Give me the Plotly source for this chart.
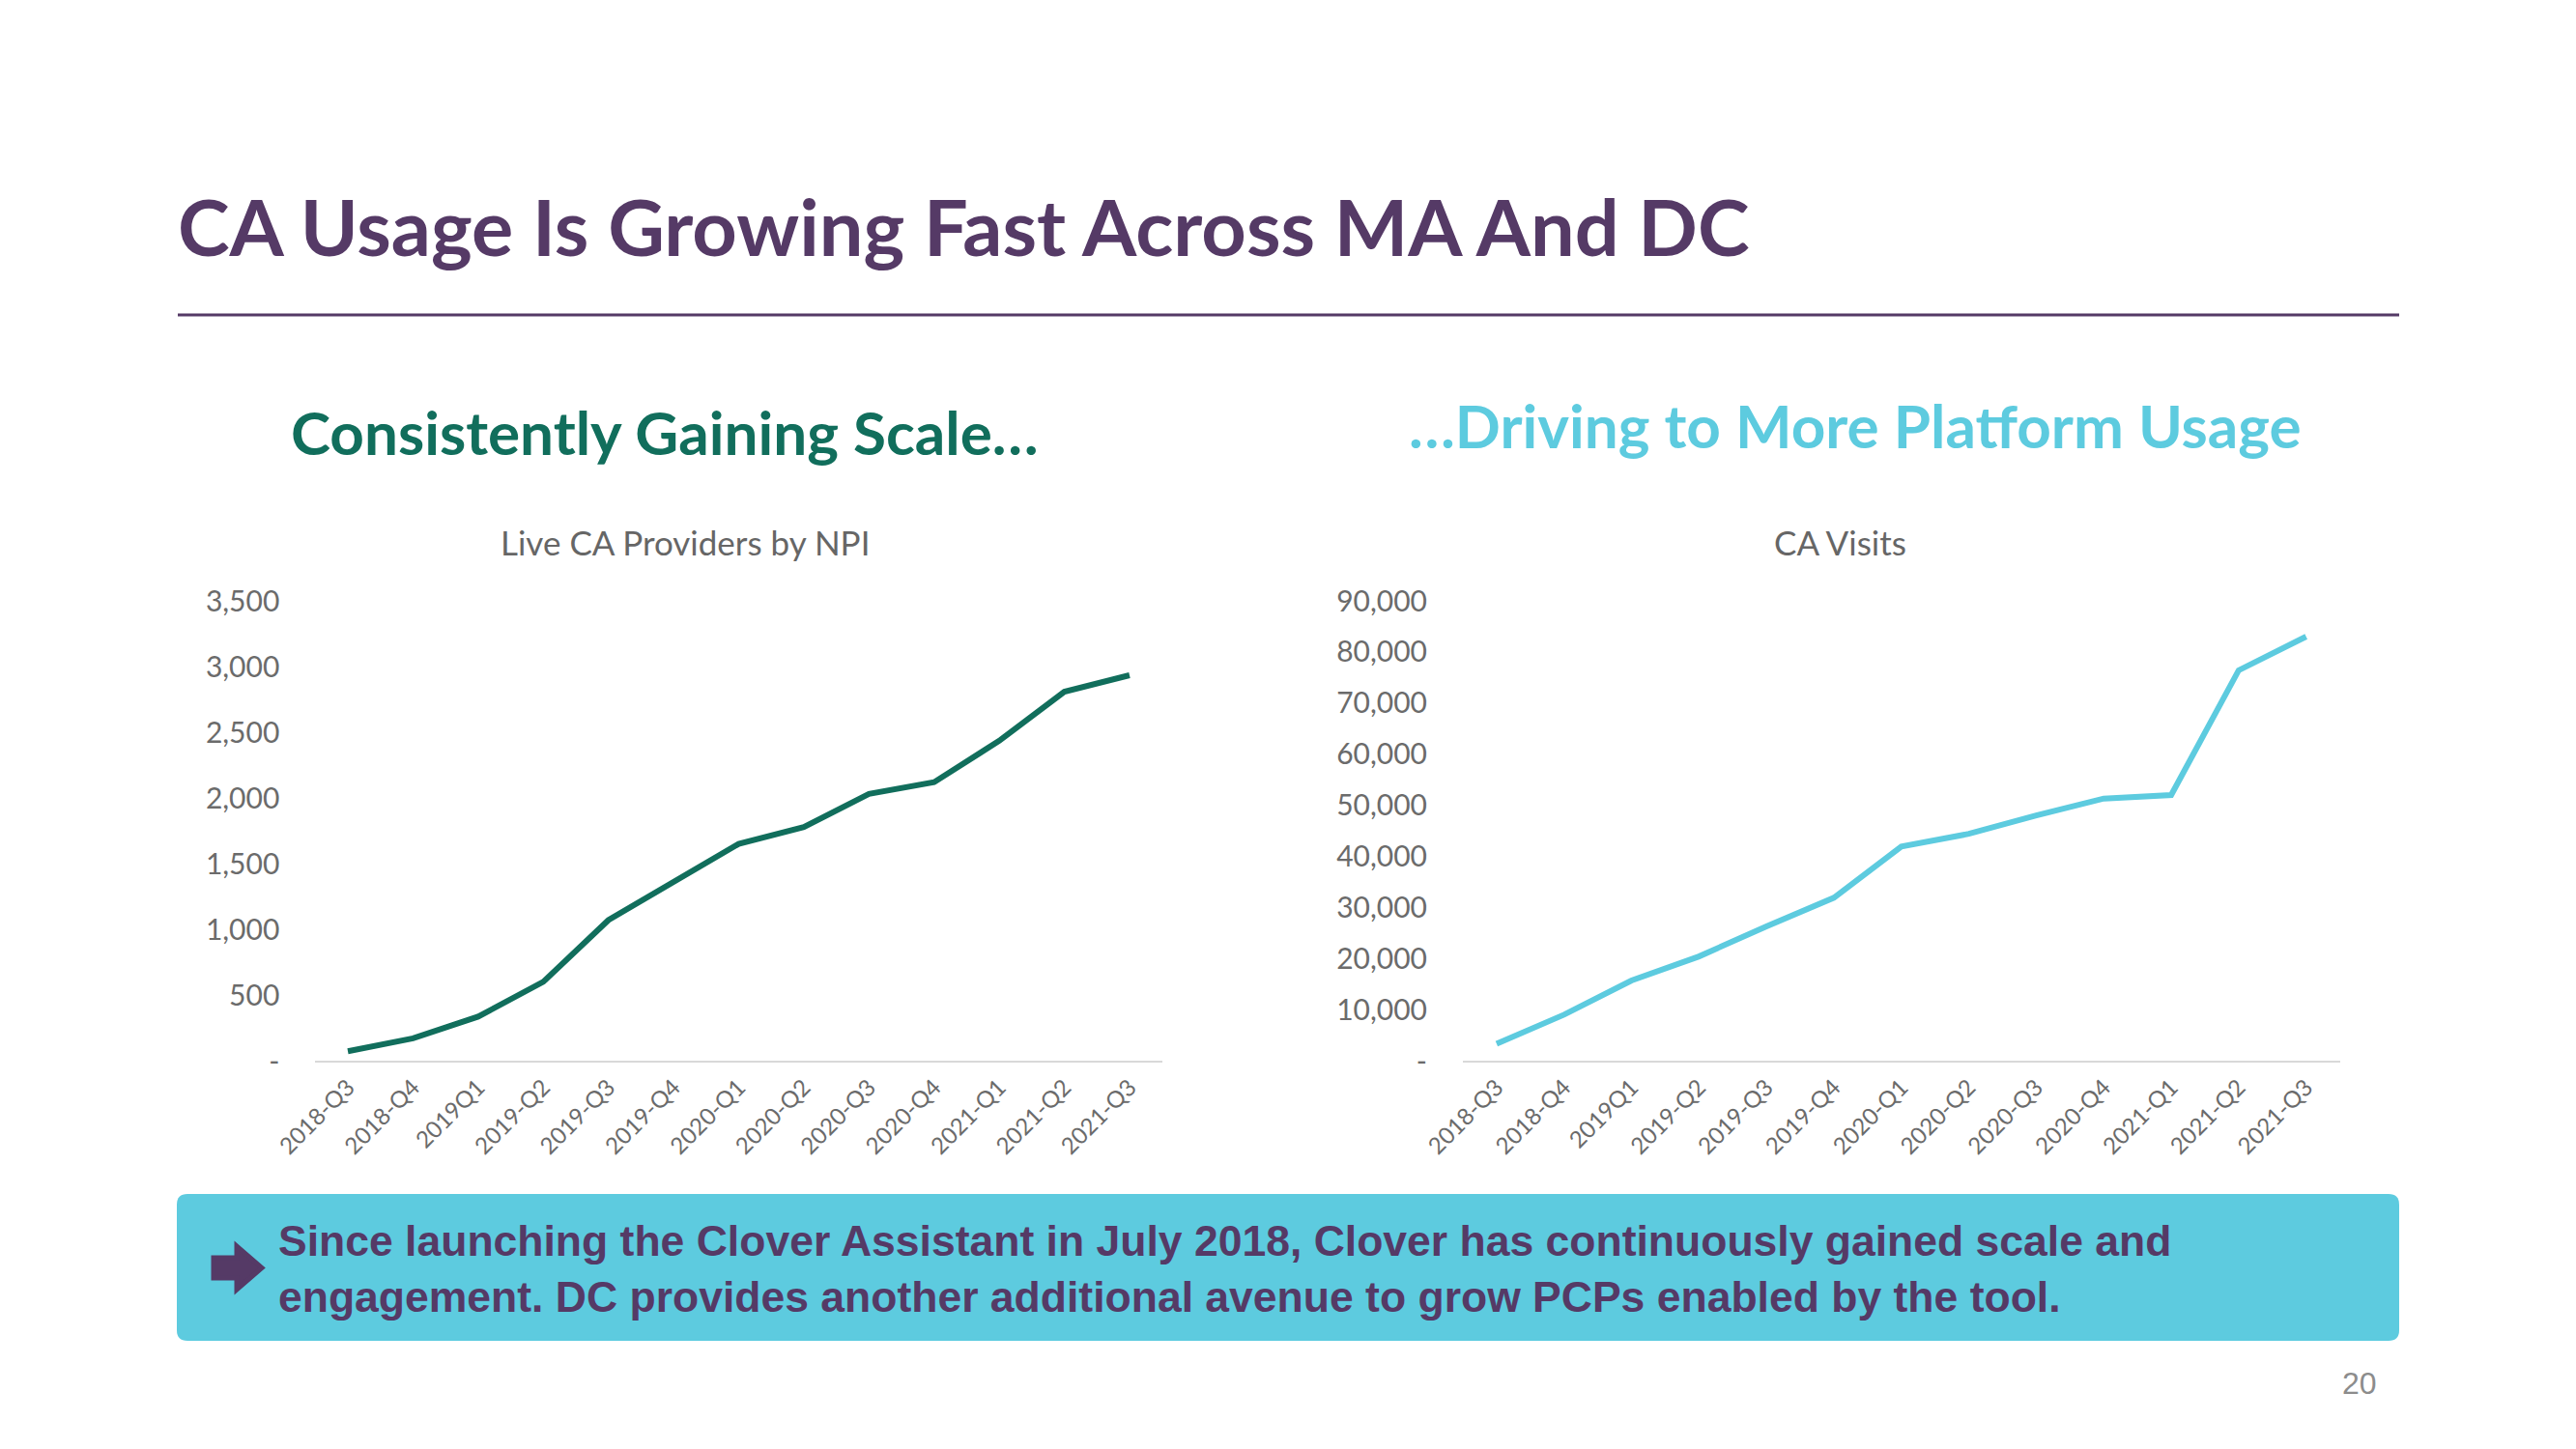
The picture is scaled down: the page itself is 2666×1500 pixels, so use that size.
import plotly.graph_objects as go

# ---------------- data ----------------
quarters = ["2018-Q3", "2018-Q4", "2019Q1", "2019-Q2", "2019-Q3", "2019-Q4",
            "2020-Q1", "2020-Q2", "2020-Q3", "2020-Q4", "2021-Q1", "2021-Q2", "2021-Q3"]
providers = [72, 170, 335, 600, 1070, 1365, 1650, 1778, 2030, 2120, 2435, 2808, 2934]
visits = [3300, 9000, 15700, 20400, 26300, 31900, 41900, 44400, 48000, 51300, 52000, 76400, 83000]

prov_ticks = [0, 500, 1000, 1500, 2000, 2500, 3000, 3500]
visit_ticks = [0, 10000, 20000, 30000, 40000, 50000, 60000, 70000, 80000, 90000]

OFF = 8  # page body margin
W, H = 2666 - 2 * OFF, 1500 - 2 * OFF
PURPLE = "#553a66"
GREEN = "#116e5c"
CYAN = "#5dcbdf"
GRAY = "#6b6b6b"


def px(x):
    return (x - OFF) / W


def py(y):
    return 1 - (y - OFF) / H


def tick_text(vals):
    return ["-" if v == 0 else f"{v:,}" for v in vals]


fig = go.Figure()
fig.add_trace(go.Scatter(x=quarters, y=providers, mode="lines",
                         line=dict(color=GREEN, width=6), xaxis="x", yaxis="y",
                         showlegend=False, hoverinfo="x+y"))
fig.add_trace(go.Scatter(x=quarters, y=visits, mode="lines",
                         line=dict(color=CYAN, width=6), xaxis="x2", yaxis="y2",
                         showlegend=False, hoverinfo="x+y"))

tickfont_y = dict(family="Lato, Open Sans, sans-serif", size=30, color=GRAY)
tickfont_x = dict(family="Lato, Open Sans, sans-serif", size=24, color=GRAY)

common_x = dict(type="category", range=[-0.5, len(quarters) - 0.5], showgrid=False,
                zeroline=False, showline=True, linecolor="#d9d9d9", linewidth=2,
                tickangle=-45, tickfont=tickfont_x, ticks="", ticklabelstandoff=2,
                fixedrange=True, automargin=False)
common_y = dict(showgrid=False, zeroline=False, showline=False, ticks="",
                tickfont=tickfont_y, ticklabelstandoff=36, fixedrange=True,
                automargin=False)

fig.update_layout(
    template="none",
    width=W, height=H,
    margin=dict(l=0, r=0, t=0, b=0, pad=0, autoexpand=False),
    paper_bgcolor="white", plot_bgcolor="white",
    xaxis=dict(domain=[px(326.3), px(1202.7)], anchor="y", **common_x),
    yaxis=dict(domain=[py(1098), py(622)], anchor="x", range=[0, 3500],
               tickvals=prov_ticks, ticktext=tick_text(prov_ticks), **common_y),
    xaxis2=dict(domain=[px(1514), px(2421.6)], anchor="y2", **common_x),
    yaxis2=dict(domain=[py(1098), py(622)], anchor="x2", range=[0, 90000],
                tickvals=visit_ticks, ticktext=tick_text(visit_ticks), **common_y),
)

ann = []
P = dict(xref="paper", yref="paper", showarrow=False)
# main title
ann.append(dict(text="CA Usage Is Growing Fast Across MA And DC", x=px(182), y=py(233),
                xanchor="left", yanchor="middle", **P,
                font=dict(family="Lato, Open Sans, sans-serif", size=81, color=PURPLE, weight=700)))
# section subtitles
ann.append(dict(text="Consistently Gaining Scale…", x=px(299), y=py(447),
                xanchor="left", yanchor="middle", **P,
                font=dict(family="Lato, Open Sans, sans-serif", size=62, color=GREEN, weight=700)))
ann.append(dict(text="…Driving to More Platform Usage", x=px(1456), y=py(440),
                xanchor="left", yanchor="middle", **P,
                font=dict(family="Lato, Open Sans, sans-serif", size=62, color=CYAN, weight=700)))
# chart titles
ann.append(dict(text="Live CA Providers by NPI", x=px(709), y=py(561),
                xanchor="center", yanchor="middle", **P,
                font=dict(family="Lato, Open Sans, sans-serif", size=35, color="#666666")))
ann.append(dict(text="CA Visits", x=px(1904), y=py(561),
                xanchor="center", yanchor="middle", **P,
                font=dict(family="Lato, Open Sans, sans-serif", size=35, color="#666666")))
# banner text
ann.append(dict(text="Since launching the Clover Assistant in July 2018, Clover has continuously gained scale and<br>"
                     "engagement. DC provides another additional avenue to grow PCPs enabled by the tool.",
                x=px(286), y=py(1313), xanchor="left", yanchor="middle", align="left", **P,
                font=dict(family="Liberation Sans, Arial, sans-serif", size=44.5, color=PURPLE, weight=700)))
# page number
ann.append(dict(text="20", x=px(2462), y=py(1432), xanchor="right", yanchor="middle", **P,
                font=dict(family="Liberation Sans, Arial, sans-serif", size=32, color="#8c8c8c")))
fig.update_layout(annotations=ann)


def rounded_rect(x0, y0, x1, y1, r):
    pts = [
        f"M {px(x0 + r)},{py(y0)}",
        f"L {px(x1 - r)},{py(y0)}",
        f"Q {px(x1)},{py(y0)} {px(x1)},{py(y0 + r)}",
        f"L {px(x1)},{py(y1 - r)}",
        f"Q {px(x1)},{py(y1)} {px(x1 - r)},{py(y1)}",
        f"L {px(x0 + r)},{py(y1)}",
        f"Q {px(x0)},{py(y1)} {px(x0)},{py(y1 - r)}",
        f"L {px(x0)},{py(y0 + r)}",
        f"Q {px(x0)},{py(y0)} {px(x0 + r)},{py(y0)}",
        "Z",
    ]
    return " ".join(pts)


arrow_pts = [(221, 1302), (245, 1302), (245, 1290), (271, 1312.5), (245, 1335),
             (245, 1323), (221, 1323)]
arrow_path = "M " + " L ".join(f"{px(x)},{py(y)}" for x, y in arrow_pts) + " Z"

shapes = [
    dict(type="line", xref="paper", yref="paper", x0=px(184), x1=px(2483), y0=py(326), y1=py(326),
         line=dict(color=PURPLE, width=3)),
    dict(type="path", xref="paper", yref="paper", path=rounded_rect(183, 1236, 2483, 1388, 11),
         fillcolor=CYAN, line=dict(width=0), layer="below"),
    dict(type="path", xref="paper", yref="paper", path=arrow_path,
         fillcolor=PURPLE, line=dict(color=PURPLE, width=5), layer="above"),
]
fig.update_layout(shapes=shapes)

fig.write_html("out.html")
